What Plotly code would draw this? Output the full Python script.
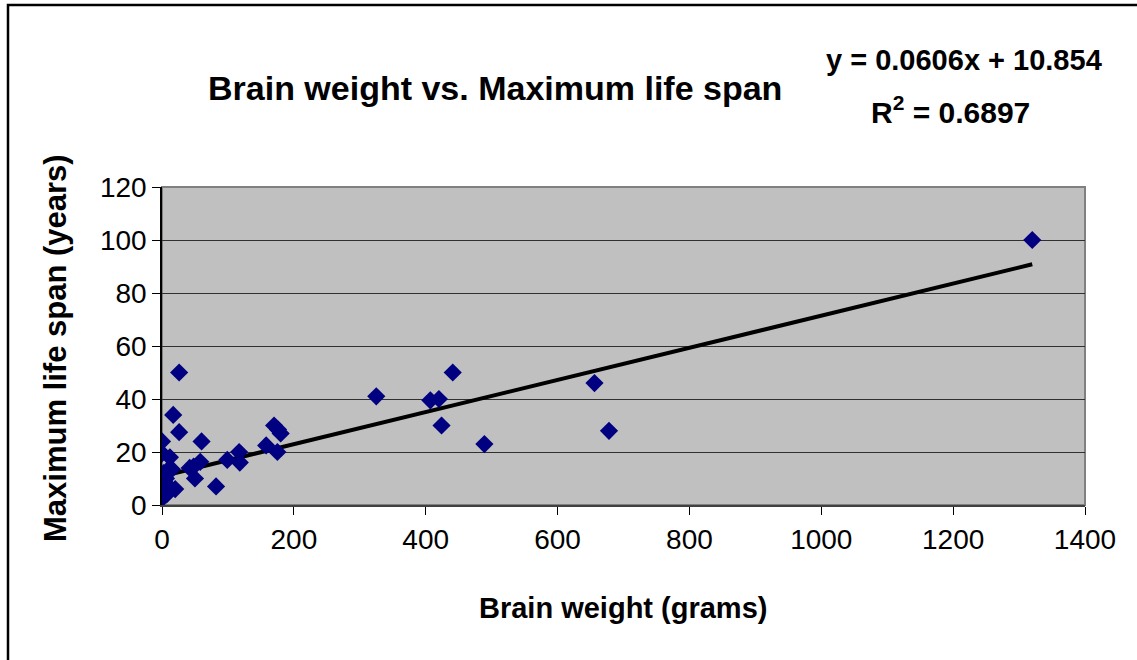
import plotly.graph_objects as go

# Data (brain weight in grams, max life span in years)
brain_weight = [1320, 656, 678, 489, 441, 420, 407, 424, 325,
                170, 176, 180, 175, 158, 117, 118, 99, 82, 60, 58,
                50, 42, 48, 26, 17, 26, 0, 0, 12, 15, 2, 20, 4.5, 2,
                0, 7, 10, 6, 1, 0.5, 12, 3, 8]
life_span = [100, 46, 28, 23, 50, 40, 39.5, 30, 41,
             30, 28.5, 27, 20, 22.5, 20, 16, 17, 7, 24, 16.3,
             10, 14, 14.5, 50, 34, 27.5, 24, 19.5, 18, 13.5, 12, 6, 8, 5,
             2.5, 4, 7, 10, 3.5, 3, 6.5, 9, 13]

# Trendline shown in the chart
SLOPE = 0.0606
INTERCEPT = 10.854
R2 = 0.6897

x_ticks = [0, 200, 400, 600, 800, 1000, 1200, 1400]
y_ticks = [0, 20, 40, 60, 80, 100, 120]

FONT = "Liberation Sans, Arial, sans-serif"

fig = go.Figure()

tx = [min(brain_weight), max(brain_weight)]
ty = [SLOPE * v + INTERCEPT for v in tx]
fig.add_trace(go.Scatter(x=tx, y=ty, mode="lines",
                         line=dict(color="black", width=4),
                         hoverinfo="skip", showlegend=False))

fig.add_trace(go.Scatter(x=brain_weight, y=life_span, mode="markers",
                         marker=dict(symbol="diamond", size=14, color="#000080",
                                     line=dict(width=0)),
                         showlegend=False))

W, H = 1137, 660
L, R, T, B = 162, 52, 187, 155
pw, ph = W - L - R, H - T - B

def px(xp):
    return (xp - L) / pw

def py(yp):
    return (H - B - yp) / ph

fig.update_layout(
    width=W, height=H,
    margin=dict(l=L, r=R, t=T, b=B),
    paper_bgcolor="white",
    plot_bgcolor="#C0C0C0",
    font=dict(family=FONT, color="black"),
    xaxis=dict(range=[0, 1400], tickvals=x_ticks, ticktext=[str(v) for v in x_ticks],
               showgrid=False, zeroline=False,
               showline=True, linecolor="#404040", linewidth=2,
               ticks="outside", ticklen=8, tickcolor="black", tickwidth=1,
               tickfont=dict(size=28, family=FONT), fixedrange=True),
    yaxis=dict(range=[0, 120], tickvals=y_ticks, ticktext=[str(v) for v in y_ticks],
               showgrid=True, gridcolor="#303030", gridwidth=1,
               zeroline=False,
               showline=True, linecolor="black", linewidth=1.5,
               ticks="outside", ticklen=8, tickcolor="black", tickwidth=1,
               tickfont=dict(size=28, family=FONT), fixedrange=True),
    shapes=[
        dict(type="rect", xref="paper", yref="paper", x0=0, x1=1, y0=0, y1=1,
             line=dict(color="#808080", width=2), layer="below"),
        dict(type="rect", xref="paper", yref="paper",
             x0=px(8), x1=px(1145), y0=py(670), y1=py(5),
             line=dict(color="black", width=2.5)),
    ],
    annotations=[
        dict(text="<b>Brain weight vs. Maximum life span</b>", x=px(495), y=py(88),
             xref="paper", yref="paper", showarrow=False, xanchor="center", yanchor="middle",
             font=dict(size=34, family=FONT)),
        dict(text="<b>y = %.4fx + %.3f</b>" % (SLOPE, INTERCEPT), x=px(964), y=py(60),
             xref="paper", yref="paper", showarrow=False, xanchor="center", yanchor="middle",
             font=dict(size=29, family=FONT)),
        dict(text="<b>R<sup>2</sup> = %.4f</b>" % R2, x=px(950), y=py(110),
             xref="paper", yref="paper", showarrow=False, xanchor="center", yanchor="middle",
             font=dict(size=30, family=FONT)),
        dict(text="<b>Brain weight (grams)</b>", x=px(623), y=py(608),
             xref="paper", yref="paper", showarrow=False, xanchor="center", yanchor="middle",
             font=dict(size=29, family=FONT)),
        dict(text="<b>Maximum life span (years)</b>", x=px(55), y=py(348), textangle=-90,
             xref="paper", yref="paper", showarrow=False, xanchor="center", yanchor="middle",
             font=dict(size=31, family=FONT)),
    ],
)

fig.write_html("out.html", config={"displayModeBar": False},
               post_script="document.body.style.margin='0px';")
